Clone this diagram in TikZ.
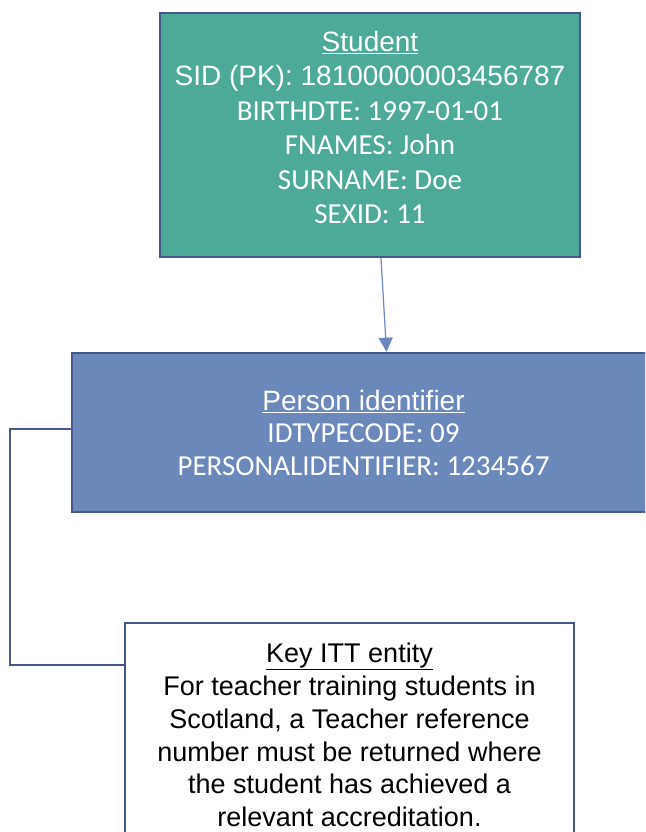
\documentclass[tikz,border=0pt]{standalone}
\usepackage{fontspec}
\setmainfont{Liberation Sans}
\newfontfamily\calibri{Carlito}
\usetikzlibrary{arrows.meta}
\definecolor{tealbox}{HTML}{4DAA99}
\definecolor{bluebox}{HTML}{6A88BA}
\definecolor{edgeblue}{HTML}{44598A}
\definecolor{arrowblue}{HTML}{6C88C2}
\newcommand\calline[1]{{\calibri\fontsize{29}{34}\selectfont #1}}
\begin{document}
\begin{tikzpicture}
	[
	x=1pt, y=-1pt,
	align=center,
	entity/.style={rectangle, draw=edgeblue, line width=2.5pt, text=white, inner sep=0pt},
	keybox/.style={rectangle, draw=edgeblue, line width=1.5pt, fill=white, inner sep=0pt},
	link/.style={draw=edgeblue, line width=2pt},
	arrowlink/.style={draw=arrowblue, line width=1.2pt, -{Triangle[width=14pt,length=14pt]}}
	]
		\clip (0,0) rectangle (645,832);
		
		% level 1
		\node[entity, fill=tealbox, minimum width=420pt, minimum height=244pt,
			font=\fontsize{28}{34.5}\selectfont] (student) at (370,135)
			{\underline{Student}\\SID (PK): 18100000003456787\\
			\calline{BIRTHDTE: 1997-01-01}\\\calline{FNAMES: John}\\
			\calline{SURNAME: Doe}\\\calline{SEXID: 11}\\[-30pt]\strut};
		
		% level 2
		\node[entity, fill=bluebox, minimum width=583pt, minimum height=159pt,
			font=\fontsize{28}{32.5}\selectfont] (person) at (363.5,432.5)
			{\underline{Person identifier}\\
			\calline{IDTYPECODE: 09}\\\calline{PERSONALIDENTIFIER: 1234567}};
		
		% level 3
		\node[keybox, minimum width=449pt, minimum height=224pt,
			font=\fontsize{27}{32.8}\selectfont] (key) at (349.5,735)
			{\underline{Key ITT entity}\\For teacher training students in\\Scotland, a Teacher reference\\
			number must be returned where\\the student has achieved a\\relevant accreditation.};
		
		% drawing code
		\draw[arrowlink] ([xshift=11pt]student.south) -- ([xshift=23pt]person.north);
		\draw[link] ([yshift=4pt]person.west) -- ++(-61,0) |- ([yshift=70pt]key.west);
	\end{tikzpicture}
\end{document}
